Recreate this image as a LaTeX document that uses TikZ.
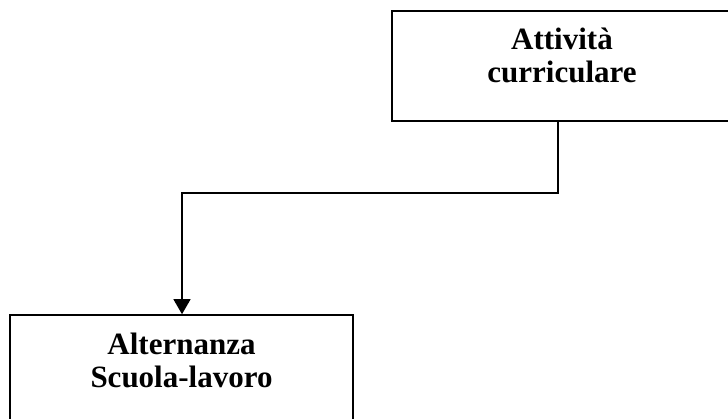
\documentclass[tikz,border=0pt]{standalone}
\usepackage{fontspec}
\setmainfont{Liberation Serif}
\usetikzlibrary{positioning,arrows.meta}
\tikzset{boxnode/.style={rectangle, draw=black, line width=1.6pt, minimum width=340pt, minimum height=110pt},
labelnode/.style={inner sep=0pt, align=center, font=\fontsize{31}{33}\selectfont\bfseries},}

\begin{document}
\begin{tikzpicture}[x=1pt,y=1pt]
\useasboundingbox (0,0) rectangle (728,418);
\clip (0,0) rectangle (728,418);
\node [boxnode] (att) at (562,352) {};
\node [boxnode, minimum width=343pt] (alt) at (181.5,48) {};
\node [labelnode] (atttext) [below=18pt of att.north] {Attività\\curriculare};
\node [labelnode] (alttext) [below=19pt of alt.north] {Alternanza\\Scuola-lavoro};
\coordinate (k1) at (558,225);
\coordinate (k2) at (182,225);
\draw[line width=1.3pt, -{Triangle[width=17pt,length=15pt]}] (att.south -| k1) -- (k1) -- (k2) -- (alt.north -| k2);
\end{tikzpicture}
\end{document}
